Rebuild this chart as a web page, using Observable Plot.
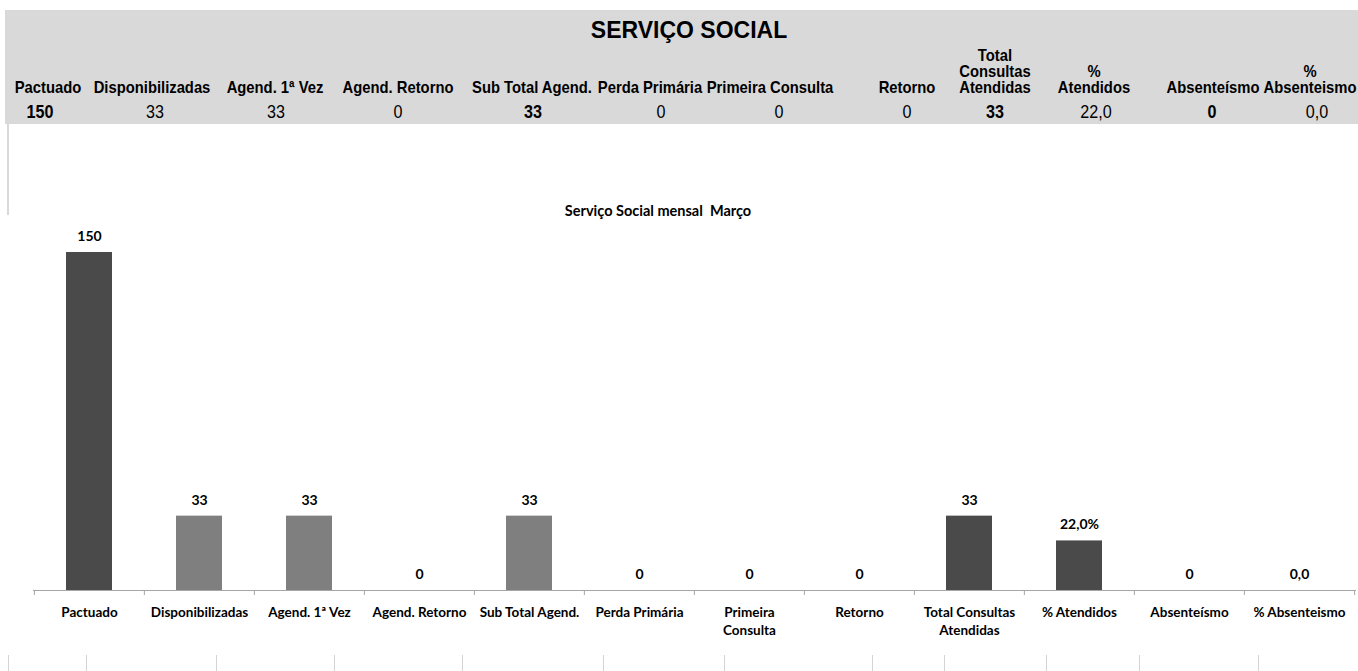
<!DOCTYPE html>
<html>
<head>
<meta charset="utf-8">
<script src="https://cdn.jsdelivr.net/npm/d3@7"></script>
<script src="https://cdn.jsdelivr.net/npm/@observablehq/plot@0.6"></script>
<style>
  html, body { margin: 0; padding: 0; background: #fff; }
  #page { position: relative; width: 1358px; height: 671px; overflow: hidden; font-family: "Liberation Sans", Arial, sans-serif; }
  #band { position: absolute; left: 5px; top: 10px; width: 1353px; height: 114px; background: #d9d9d9; }
  #title { position: absolute; left: 0; width: 1378px; top: 16px; text-align: center; font: bold 23px "Liberation Sans", Arial, sans-serif; color: #000; transform: scaleY(1.08); }
  .hl { position: absolute; transform: translateX(-50%) scaleX(0.87); white-space: pre; text-align: center;
        font-family: "Liberation Sans", Arial, sans-serif; font-weight: bold; font-size: 17px; line-height: 16px; color: #000; }
  .hv { position: absolute; transform: translateX(-50%) scaleX(0.85); white-space: pre; text-align: center; top: 101px;
        font-family: "Liberation Sans", Arial, sans-serif; font-size: 19px; line-height: 22px; color: #000; }
  #leftline { position: absolute; left: 7px; top: 124px; width: 2px; height: 91px; background: #d9d9d9; }
  #chart { position: absolute; left: 0; top: 124px; }
  #cells { position: absolute; top: 655px; left: 0; height: 16px; }
  .cell { position: absolute; top: 0; width: 1px; height: 16px; background: #d4d4d4; }
</style>
</head>
<body>
<div id="page">
  <div id="band"></div>
  <div id="title"></div>
  <div id="header"></div>
  <div id="leftline"></div>
  <div id="chart"></div>
  <div id="cells"></div>
</div>
<script>
// ---- data ----
const sheetTitle = "SERVIÇO SOCIAL";
const chartTitle = "Serviço Social mensal  Março";
const categories = ["Pactuado", "Disponibilizadas", "Agend. 1ª Vez", "Agend. Retorno", "Sub Total Agend.", "Perda Primária", "Primeira Consulta", "Retorno", "Total Consultas Atendidas", "% Atendidos", "Absenteísmo", "% Absenteismo"];
const values = [150, 33, 33, 0, 33, 0, 0, 0, 33, 22, 0, 0];
const barLabels = ["150", "33", "33", "0", "33", "0", "0", "0", "33", "22,0%", "0", "0,0"];
const axisLabels = ["Pactuado", "Disponibilizadas", "Agend. 1ª Vez", "Agend. Retorno", "Sub Total Agend.", "Perda Primária", "Primeira\nConsulta", "Retorno", "Total Consultas\nAtendidas", "% Atendidos", "Absenteísmo", "% Absenteismo"];
const groups = ["dark", "mid", "mid", "mid", "mid", "mid", "mid", "mid", "dark", "dark", "dark", "dark"];
const headerLabels = ["Pactuado", "Disponibilizadas", "Agend. 1ª Vez", "Agend. Retorno", "Sub Total Agend.", "Perda Primária", "Primeira Consulta", "Retorno", "Total\nConsultas\nAtendidas", "%\nAtendidos", "Absenteísmo", "%\nAbsenteismo"];
const headerValues = ["150", "33", "33", "0", "33", "0", "0", "0", "33", "22,0", "0", "0,0"];
const headerBold = [true, false, false, false, true, false, false, false, true, false, true, false];

// ---- layout (pixels, not data) ----
const headerLabelX = [48, 152, 275, 398, 532, 650, 770, 907, 995, 1094, 1213, 1310];
const headerValueX = [40, 155, 276, 398, 533, 661, 779, 907, 995, 1096, 1212, 1317];
const cellEdges = [8, 86, 216, 334, 462, 603, 724, 872, 944, 1046, 1139, 1258];
const labelRowBottom = 96;

document.getElementById("title").textContent = sheetTitle;
const header = document.getElementById("header");
headerLabels.forEach((t, i) => {
  const d = document.createElement("div");
  d.className = "hl";
  d.textContent = t;
  d.style.left = headerLabelX[i] + "px";
  const lines = t.split("\n").length;
  d.style.top = (labelRowBottom - lines * 16) + "px";
  header.appendChild(d);
  const v = document.createElement("div");
  v.className = "hv";
  v.textContent = headerValues[i];
  v.style.left = headerValueX[i] + "px";
  v.style.fontWeight = headerBold[i] ? "bold" : "normal";
  header.appendChild(v);
});
const cells = document.getElementById("cells");
cellEdges.forEach(x => {
  const c = document.createElement("div");
  c.className = "cell";
  c.style.left = x + "px";
  cells.appendChild(c);
});

// ---- chart ----
const data = categories.map((c, i) => ({category: c, value: values[i], label: barLabels[i], group: groups[i]}));
const W = 1358, H = 531, mL = 33, mR = 2, mT = 128, mB = 65;
const step = (W - mL - mR) / categories.length;
const axisColor = "#a6a6a6";
const font = "Lato, 'Open Sans', sans-serif";

const chart = Plot.plot({
  width: W,
  height: H,
  marginLeft: mL,
  marginRight: mR,
  marginTop: mT,
  marginBottom: mB,
  style: {fontFamily: font, background: "transparent"},
  x: {domain: categories, paddingInner: 0.58, paddingOuter: 0.29},
  y: {domain: [0, 150], axis: null},
  color: {domain: ["dark", "mid"], range: ["#4a4a4a", "#7f7f7f"]},
  marks: [
    Plot.barY(data, {x: "category", y: "value", fill: "group"}),
    Plot.ruleY([0], {stroke: axisColor, strokeWidth: 1}),
    Plot.axisX({tickSize: 5, tickFormat: () => "", stroke: axisColor, dx: -step / 2, label: null}),
    Plot.axisX([categories[categories.length - 1]], {tickSize: 5, tickFormat: () => "", stroke: axisColor, dx: step / 2, label: null}),
    Plot.axisX({tickSize: 0, tickPadding: 14, tickFormat: d => axisLabels[categories.indexOf(d)], fontSize: 13.5, fontWeight: "bold", fill: "#000", lineHeight: 1.33, textOverflow: null, label: null}),
    Plot.text(data, {x: "category", y: "value", text: "label", dy: -16, fontSize: 14, fontWeight: "bold", fill: "#000"}),
    Plot.text([chartTitle], {frameAnchor: "top", dy: -47, dx: -37, fontSize: 14.5, fontWeight: "bold", fill: "#000"})
  ]
});
document.getElementById("chart").appendChild(chart);
</script>
</body>
</html>
